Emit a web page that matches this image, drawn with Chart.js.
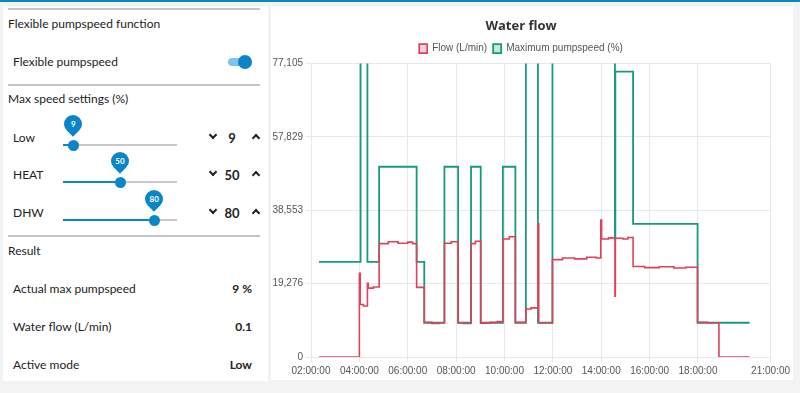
<!DOCTYPE html>
<html>
<head>
<meta charset="utf-8">
<title>Water flow</title>
<script src="https://cdn.jsdelivr.net/npm/chart.js@4.4.1/dist/chart.umd.min.js"></script>
<style>
  body { margin: 0; width: 800px; height: 393px; background: #f3f3f3; overflow: hidden; position: relative;
         font-family: Lato, "Noto Sans", sans-serif; font-size: 12px; color: #222; }
  .topbar { position: absolute; left: 0; top: 0; width: 800px; height: 2px; background: #0a86c8; }
  .panel { position: absolute; background: #fff; }
  .rule { position: absolute; left: 8px; width: 252px; height: 2px; background: #c4c4c4; }
  .txt { position: absolute; line-height: 16px; white-space: nowrap; }
  .val { position: absolute; line-height: 16px; font-weight: bold; text-align: right; width: 80px; }
  .track { position: absolute; left: 63px; width: 114px; height: 2px; background: #c8c8c8; }
  .fill { position: absolute; left: 0; top: 0; height: 2px; background: #0a86c8; }
  .knob { position: absolute; width: 11px; height: 11px; border-radius: 50%; background: #0a86c8; }
  .pin { position: absolute; width: 18px; height: 18px; background: #0a86c8; border-radius: 50% 50% 50% 0; transform: rotate(-45deg); }
  .pinlabel { position: absolute; width: 24px; text-align: center; color: #fff; font-size: 8px; font-weight: bold; line-height: 10px; }
  .chev { position: absolute; width: 4px; height: 4px; border-right: 2px solid #222; border-bottom: 2px solid #222; }
  .num { position: absolute; width: 24px; text-align: center; font-weight: bold; font-size: 13px; line-height: 16px; }
</style>
</head>
<body>
<div class="topbar"></div>
<div class="panel" style="left:3px; top:6px; width:265px; height:375px;"></div>
<div class="panel" style="left:271px; top:6px; width:522px; height:374px;"></div>

<div class="rule" style="top:8px;"></div>
<div class="txt" style="left:8px; top:16px;">Flexible pumpspeed function</div>
<div class="txt" style="left:13px; top:54px;">Flexible pumpspeed</div>
<div style="position:absolute; left:228px; top:58px; width:20px; height:8px; border-radius:4px; background:#7fc5ea;"></div>
<div style="position:absolute; left:238px; top:55px; width:14px; height:14px; border-radius:50%; background:#0a86c8;"></div>
<div class="rule" style="top:84px;"></div>
<div class="txt" style="left:8px; top:91px;">Max speed settings (%)</div>
<div id="sliders"></div>
<div class="rule" style="top:235px;"></div>
<div class="txt" style="left:8px; top:243px;">Result</div>
<div class="txt" style="left:13px; top:281px;">Actual max pumpspeed</div>
<div class="val" style="left:172px; top:281px;">9 %</div>
<div class="txt" style="left:13px; top:319px;">Water flow (L/min)</div>
<div class="val" style="left:172px; top:319px;">0.1</div>
<div class="txt" style="left:13px; top:357px;">Active mode</div>
<div class="val" style="left:172px; top:357px;">Low</div>

<canvas id="waterChart" width="522" height="374" style="position:absolute; left:271px; top:6px;"></canvas>

<script>
// slider settings shown in the left panel
const sliderNames = ['Low', 'HEAT', 'DHW'];
const sliderValues = [9, 50, 80];
const sliderRows = [144, 181, 219];

// chart data, times as HH:MM
const xTickHours = [2, 4, 6, 8, 10, 12, 14, 16, 18, 21];
const xTickLabels = ['02:00:00', '04:00:00', '06:00:00', '08:00:00', '10:00:00', '12:00:00', '14:00:00', '16:00:00', '18:00:00', '21:00:00'];
const yTickValues = [0, 19.276, 38.553, 57.829, 77.105];
const yTickLabels = ['0', '19,276', '38,553', '57,829', '77,105'];

const flowTimes = ['02:20', '04:00', '04:02', '04:10', '04:20', '04:22', '04:35', '04:49', '05:12', '05:36', '06:00', '06:12',
  '06:22', '06:41', '07:00', '07:18', '07:31', '07:48', '08:05', '08:18', '08:37', '08:48', '09:01', '09:24', '09:42',
  '09:56', '10:12', '10:27', '10:53', '11:06', '11:23', '11:25', '11:59', '12:24', '12:54', '13:24', '13:48',
  '13:59', '14:01', '14:18', '14:34', '14:35', '14:54', '15:06', '15:19', '15:48', '16:24', '17:00', '17:30',
  '17:59', '18:24', '18:52', '20:08'];
const flowValues = [0, 22.0, 13.8, 13.4, 19.4, 18.1, 18.4, 29.8, 30.3, 29.9, 30.2, 29.8,
  18.3, 9.1, 8.8, 9.0, 29.9, 30.3, 9.0, 8.8, 29.8, 30.4, 8.9, 9.1, 9.3,
  31.0, 31.6, 9.1, 12.6, 12.9, 35.0, 9.0, 25.6, 26.0, 25.8, 26.2, 26.0,
  36.0, 31.0, 31.3, 16.0, 31.2, 31.0, 31.4, 23.8, 23.5, 23.7, 23.4, 23.6,
  9.1, 9.0, 0, 0];

const speedTimes = ['02:20', '04:03', '04:20', '04:49', '06:22', '06:41', '07:31', '08:05', '08:37', '09:01', '09:56',
  '10:27', '10:53', '11:23', '11:59', '14:34', '14:35', '15:19', '17:59', '20:08'];
const speedValues = [25, 80, 25, 50, 25, 9, 50, 9, 50, 9, 50,
  9, 80, 9, 80, 31, 75, 35, 9, 9];

// left panel sliders
const holder = document.getElementById('sliders');
sliderNames.forEach((name, i) => {
  const y = sliderRows[i];
  const kx = 63 + sliderValues[i] / 100 * 114;
  holder.innerHTML +=
    '<div class="txt" style="left:13px; top:' + (y - 14) + 'px;">' + name + '</div>' +
    '<div class="track" style="top:' + y + 'px;"><div class="fill" style="width:' + (kx - 63) + 'px;"></div></div>' +
    '<div class="knob" style="left:' + (kx - 5.5) + 'px; top:' + (y - 4.5) + 'px;"></div>' +
    '<div class="pin" style="left:' + (kx - 9) + 'px; top:' + (y - 29) + 'px;"></div>' +
    '<div class="pinlabel" style="left:' + (kx - 12) + 'px; top:' + (y - 25) + 'px;">' + sliderValues[i] + '</div>' +
    '<div class="chev" style="left:210px; top:' + (y - 12) + 'px; transform:rotate(45deg);"></div>' +
    '<div class="num" style="left:220px; top:' + (y - 14) + 'px;">' + sliderValues[i] + '</div>' +
    '<div class="chev" style="left:253px; top:' + (y - 9) + 'px; transform:rotate(-135deg);"></div>';
});

const toHours = t => {
  const p = t.split(':');
  return Number(p[0]) + Number(p[1]) / 60;
};

const tickFont = { family: '"Liberation Sans Narrow", "Liberation Sans", Arial, sans-serif', size: 10 };

new Chart(document.getElementById('waterChart'), {
  type: 'line',
  data: {
    datasets: [{
      label: 'Flow (L/min)',
      data: flowTimes.map((t, i) => ({ x: toHours(t), y: flowValues[i] })),
      borderColor: '#e0405a',
      backgroundColor: 'rgba(224,64,90,0.25)',
      borderWidth: 1.6,
      pointRadius: 0,
      stepped: true,
      fill: false
    }, {
      label: 'Maximum pumpspeed (%)',
      data: speedTimes.map((t, i) => ({ x: toHours(t), y: speedValues[i] })),
      borderColor: '#179a7c',
      backgroundColor: 'rgba(23,154,124,0.25)',
      borderWidth: 1.8,
      pointRadius: 0,
      stepped: true,
      fill: false
    }]
  },
  options: {
    responsive: false,
    animation: false,
    layout: { padding: { left: 0, right: 22, top: 0, bottom: 0 } },
    plugins: {
      title: {
        display: true,
        text: 'Water flow',
        color: '#333',
        font: { family: '"Open Sans", "Noto Sans", sans-serif', size: 13, weight: 'bold' },
        padding: { top: 12, bottom: 4 }
      },
      legend: {
        labels: { boxWidth: 8, boxHeight: 9, padding: 6, color: '#555', font: tickFont }
      },
      tooltip: { enabled: false }
    },
    scales: {
      x: {
        type: 'linear',
        min: 2,
        max: 21,
        afterBuildTicks: scale => { scale.ticks = xTickHours.map(v => ({ value: v })); },
        ticks: {
          autoSkip: false,
          maxRotation: 0,
          color: '#555',
          font: tickFont,
          callback: v => xTickLabels[xTickHours.indexOf(v)]
        },
        grid: { color: '#e8e8e8', tickLength: 5 },
        border: { color: '#e8e8e8' }
      },
      y: {
        min: 0,
        max: 77.105,
        afterBuildTicks: scale => { scale.ticks = yTickValues.map(v => ({ value: v })); },
        afterFit: scale => { scale.width = 40; },
        ticks: {
          color: '#555',
          font: tickFont,
          callback: v => yTickLabels[yTickValues.indexOf(v)]
        },
        grid: { color: '#e8e8e8', tickLength: 5 },
        border: { color: '#e8e8e8' }
      }
    }
  }
});
</script>
</body>
</html>
